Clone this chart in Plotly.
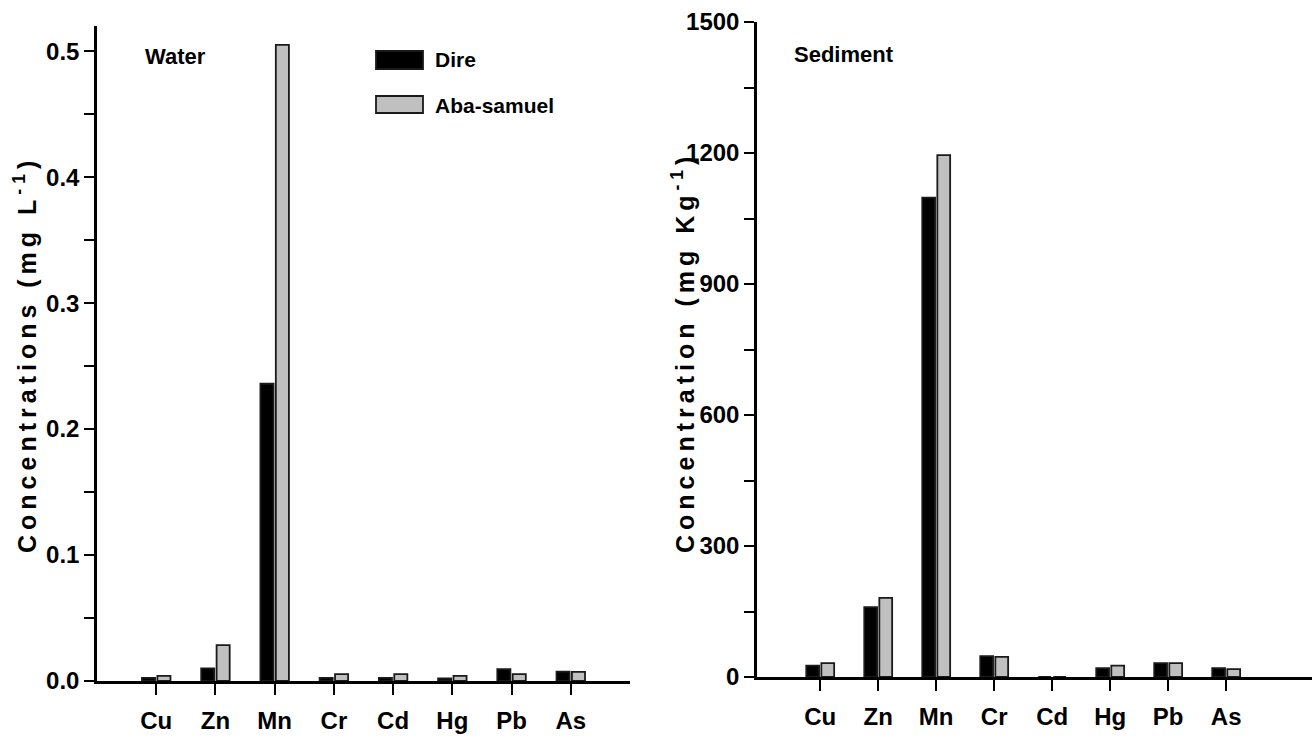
import plotly.graph_objects as go

W, H = 1312, 748

metals = ["Cu", "Zn", "Mn", "Cr", "Cd", "Hg", "Pb", "As"]
water_dire = [0.0025, 0.010, 0.236, 0.0025, 0.0025, 0.002, 0.0095, 0.0075]
water_aba = [0.004, 0.0285, 0.505, 0.0055, 0.0055, 0.004, 0.0055, 0.0072]
sed_dire = [26, 160, 1098, 48, 0, 20, 32, 20]
sed_aba = [32, 181, 1195, 46, 0, 26, 32, 18]
water_ticks = [0.0, 0.1, 0.2, 0.3, 0.4, 0.5]
sed_ticks = [0, 300, 600, 900, 1200, 1500]
series_names = ["Dire", "Aba-samuel"]
series_colors = ["#000000", "#c0c0c0"]

FONT = "Liberation Sans Narrow, Arial Narrow, Liberation Sans, Arial"


def px(x):
    return x / W


def py(y):
    return 1 - y / H


fig = go.Figure()
for vals, name, col in zip([water_dire, water_aba], series_names, series_colors):
    fig.add_trace(go.Bar(x=metals, y=vals, name=name, marker=dict(color=col, line=dict(color="#1a1a1a", width=1.8)),
                         xaxis="x", yaxis="y", showlegend=False))
for vals, name, col in zip([sed_dire, sed_aba], series_names, series_colors):
    fig.add_trace(go.Bar(x=metals, y=vals, name=name, marker=dict(color=col, line=dict(color="#1a1a1a", width=1.8)),
                         xaxis="x2", yaxis="y2", showlegend=False))

tickfont = dict(family=FONT, size=24, color="black", weight="bold")
common_x = dict(type="category", showline=True, linecolor="black", linewidth=2.5, ticks="outside",
                ticklen=11, tickwidth=2, tickcolor="black", tickfont=tickfont, showgrid=False,
                zeroline=False, ticklabelstandoff=5, automargin=False)
common_y = dict(showline=True, linecolor="black", linewidth=2.5, ticks="outside", ticklen=10,
                tickwidth=2, tickcolor="black", tickfont=tickfont, showgrid=False, zeroline=False,
                automargin=False)

fig.update_layout(
    template="none",
    width=W, height=H, margin=dict(l=0, r=0, t=0, b=0, pad=0), autosize=False,
    plot_bgcolor="white", paper_bgcolor="white", showlegend=False,
    barmode="group", bargap=0.48, bargroupgap=0.15,
    xaxis=dict(domain=[px(97), px(630)], range=[-1, 8], anchor="y", **common_x),
    yaxis=dict(domain=[py(681), py(26)], range=[0, 0.52], anchor="x", tickvals=water_ticks,
               tickformat=".1f", minor=dict(dtick=0.05, ticks="outside", ticklen=10, tickwidth=2, tickcolor="black"),
               **common_y),
    xaxis2=dict(domain=[px(757), 1.0], range=[-1.09, 8.48], anchor="y2", **common_x),
    yaxis2=dict(domain=[py(677), py(22)], range=[0, 1500], anchor="x2", tickvals=sed_ticks,
                minor=dict(dtick=150, ticks="outside", ticklen=10, tickwidth=2, tickcolor="black"),
                **common_y),
)

lab = dict(family=FONT, size=22, color="black", weight="bold")
leg = dict(family=FONT, size=21, color="black", weight="bold")
ttl = dict(family=FONT, size=25, color="black", weight="bold")
anns = [
    dict(x=px(143), y=py(57), text="Water", xanchor="left", yanchor="middle", font=lab),
    dict(x=px(792), y=py(55), text="Sediment", xanchor="left", yanchor="middle", font=lab),
    dict(x=px(433), y=py(60), text=series_names[0], xanchor="left", yanchor="middle", font=leg),
    dict(x=px(433), y=py(105), text=series_names[1], xanchor="left", yanchor="middle", font=leg),
    dict(x=px(25), y=py(355), textangle=-90, xanchor="center", yanchor="middle", font=ttl,
         text='<span style="letter-spacing:5px">Concentrations (mg L<sup>-1</sup>)</span>'),
    dict(x=px(683), y=py(353), textangle=-90, xanchor="center", yanchor="middle", font=ttl,
         text='<span style="letter-spacing:5px">Concentration (mg Kg<sup>-1</sup>)</span>'),
]
for a in anns:
    a.update(xref="paper", yref="paper", showarrow=False)
fig.update_layout(annotations=anns)

fig.update_layout(shapes=[
    dict(type="rect", xref="paper", yref="paper", x0=px(376), x1=px(423), y0=py(69), y1=py(51),
         fillcolor=series_colors[0], line=dict(color="#1a1a1a", width=1.8)),
    dict(type="rect", xref="paper", yref="paper", x0=px(376), x1=px(423), y0=py(113), y1=py(96),
         fillcolor=series_colors[1], line=dict(color="#1a1a1a", width=1.8)),
])

fig.write_html("out.html")
